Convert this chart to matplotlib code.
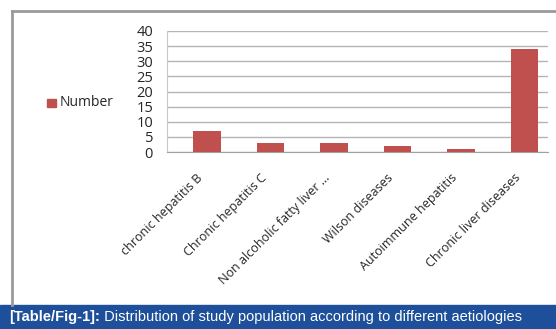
import matplotlib
matplotlib.use("Agg")
import matplotlib.pyplot as plt
from matplotlib.patches import Rectangle
from matplotlib.lines import Line2D
from matplotlib.transforms import offset_copy

categories = [
    "chronic hepatitis B",
    "Chronic hepatitis C",
    "Non alcoholic fatty liver ...",
    "Wilson diseases",
    "Autoimmune hepatitis",
    "Chronic liver diseases",
]
counts = [7, 3, 3, 2, 1, 34]
yticks = [0, 5, 10, 15, 20, 25, 30, 35, 40]
series_name = "Number"
caption_bold = "[Table/Fig-1]:"
caption_rest = " Distribution of study population according to different aetiologies"

W, H = 556, 329
fig = plt.figure(figsize=(W / 100, H / 100), dpi=100)
fig.patch.set_facecolor("white")

bar_color = "#c0504d"
grid_color = "#b4b4b4"
text_color = "#262626"
font = "Open Sans"

# chart frame
fig.add_artist(Line2D([12 / W, 12 / W], [1 - 305 / H, 1 - 11 / H], color="#9a9a9a", lw=2.0,
                      transform=fig.transFigure))
fig.add_artist(Line2D([12 / W, 1.0], [1 - 11 / H, 1 - 11 / H], color="#9a9a9a", lw=2.0,
                      transform=fig.transFigure))

# plot area
left, right, top, bottom = 167, 548, 31, 152
ax = fig.add_axes([left / W, 1 - bottom / H, (right - left) / W, (bottom - top) / H])
x = list(range(len(categories)))
ax.bar(x, counts, width=0.43, color=bar_color, zorder=3)
ax.set_xlim(-0.63, 5.37)
ax.set_ylim(0, 40)
ax.set_yticks(yticks)
ax.set_yticklabels([str(v) for v in yticks], fontsize=10.5, family=font, color=text_color)
ax.yaxis.grid(True, color=grid_color, lw=1.0, zorder=0)
ax.tick_params(axis="y", length=0, pad=10)
ax.set_xticks(x)
ax.set_xticklabels([])
ax.tick_params(axis="x", length=0)
for s in ["top", "right"]:
    ax.spines[s].set_visible(False)
ax.spines["left"].set_color("#c8c8c8")
ax.spines["bottom"].set_color("#a0a0a0")

# rotated category labels, ending just below-left of each bar
label_tf = offset_copy(ax.get_xaxis_transform(), fig=fig, x=-6, y=-24, units="dots")
for xi, name in zip(x, categories):
    ax.text(xi, 0, name, transform=label_tf, rotation=45, rotation_mode="anchor",
            ha="right", va="center", fontsize=9, family=font, color=text_color)

# legend
fig.add_artist(Rectangle((47 / W, 1 - 107 / H), 9 / W, 8 / H, color=bar_color,
                         transform=fig.transFigure))
fig.text(60 / W, 1 - 103 / H, series_name, fontsize=10, family=font, color=text_color,
         va="center", ha="left")

# caption banner
fig.add_artist(Rectangle((0, 0), 1, (H - 305) / H, color="#1d4f9a", transform=fig.transFigure))
t1 = fig.text(9 / W, 1 - 317 / H, caption_bold, fontsize=10.5, family="Liberation Sans",
              weight="bold", color="white", va="center", ha="left")
fig.canvas.draw()
bb = t1.get_window_extent()
fig.text(bb.x1 / W, 1 - 317 / H, caption_rest, fontsize=10.5, family="Liberation Sans",
         color="white", va="center", ha="left")

fig.savefig("out.png", dpi=100)
